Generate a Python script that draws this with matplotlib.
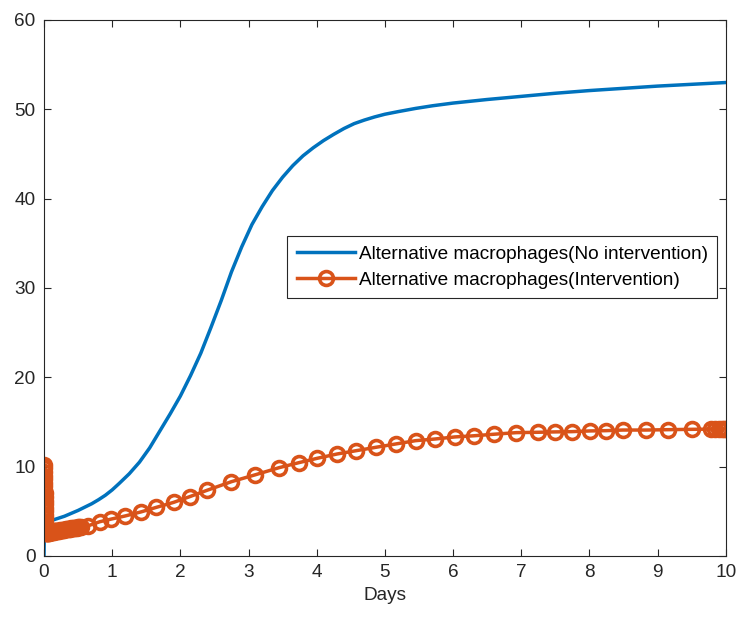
import matplotlib
matplotlib.use("Agg")
import matplotlib.pyplot as plt

plt.rcParams["font.family"] = ["Liberation Sans", "DejaVu Sans"]

# No intervention (blue curve)
t_none = [0, 0.004, 0.01, 0.02, 0.1, 0.3, 0.5, 0.7, 0.8, 0.9, 1.0, 1.1, 1.25,
          1.4, 1.55, 1.7, 1.85, 2.0, 2.15, 2.3, 2.45, 2.6, 2.75, 2.9, 3.05,
          3.2, 3.35, 3.5, 3.65, 3.8, 3.95, 4.1, 4.25, 4.4, 4.55, 4.7, 4.85,
          5.0, 5.2, 5.45, 5.7, 6.0, 6.5, 7.0, 7.5, 8.0, 8.5, 9.0, 9.5, 10.0]
v_none = [0, 2.0, 3.5, 3.8, 3.95, 4.45, 5.1, 5.85, 6.3, 6.8, 7.4, 8.1, 9.2,
          10.5, 12.1, 14.0, 15.9, 17.9, 20.2, 22.7, 25.6, 28.6, 31.8, 34.6,
          37.1, 39.1, 40.9, 42.4, 43.7, 44.8, 45.7, 46.5, 47.2, 47.85, 48.4,
          48.8, 49.15, 49.45, 49.75, 50.1, 50.4, 50.7, 51.1, 51.45, 51.8,
          52.1, 52.35, 52.6, 52.8, 53.0]

# Intervention (orange curve, solver steps)
t_int = [0, 0.001, 0.002, 0.003, 0.004, 0.005, 0.006, 0.007, 0.008, 0.009,
         0.010, 0.011, 0.012, 0.013, 0.014, 0.015, 0.016, 0.018, 0.020,
         0.022, 0.025, 0.028, 0.03, 0.04, 0.05, 0.06, 0.07, 0.08, 0.09, 0.10,
         0.11, 0.12, 0.13, 0.14, 0.15, 0.16, 0.17, 0.18, 0.20, 0.22, 0.24,
         0.26, 0.28, 0.30, 0.32, 0.34, 0.36, 0.38, 0.40, 0.42, 0.44, 0.46,
         0.48, 0.50, 0.52, 0.54, 0.65, 0.82, 0.99, 1.19, 1.43, 1.65, 1.90,
         2.14, 2.39, 2.75, 3.09, 3.45, 3.74, 4.01, 4.30, 4.58, 4.87, 5.16,
         5.45, 5.74, 6.03, 6.31, 6.60, 6.93, 7.25, 7.49, 7.74, 8.01, 8.24,
         8.49, 8.83, 9.15, 9.50, 9.79, 9.85, 9.90, 9.94, 9.97, 10.0]
v_int = [10.2, 9.8, 9.4, 9.0, 8.6, 8.2, 7.8, 7.4, 7.0, 6.6, 6.2, 5.8, 5.4,
         5.0, 4.6, 4.2, 3.85, 3.5, 3.2, 2.95, 2.75, 2.6, 2.55, 2.56, 2.58,
         2.6, 2.61, 2.63, 2.65, 2.66, 2.68, 2.7, 2.71, 2.73, 2.75, 2.76,
         2.78, 2.8, 2.83, 2.85, 2.88, 2.9, 2.93, 2.95, 2.98, 3.0, 3.03, 3.05,
         3.08, 3.1, 3.13, 3.15, 3.18, 3.2, 3.23, 3.25, 3.39, 3.84, 4.14,
         4.48, 4.95, 5.45, 6.0, 6.65, 7.35, 8.32, 9.07, 9.89, 10.45, 10.94,
         11.42, 11.79, 12.17, 12.54, 12.91, 13.1, 13.33, 13.46, 13.63, 13.81,
         13.85, 13.89, 13.92, 14.0, 14.03, 14.1, 14.1, 14.14, 14.18, 14.2,
         14.2, 14.2, 14.22, 14.22, 14.22]

x_ticks = list(range(0, 11))
y_ticks = [0, 10, 20, 30, 40, 50, 60]

fig = plt.figure(figsize=(7.42, 6.25), dpi=100)
ax = fig.add_axes([0.0593, 0.1104, 0.9187, 0.8576])

ax.plot(t_none, v_none, color="#0072BD", lw=2.5,
        label="Alternative macrophages(No intervention)")
ax.plot(t_int, v_int, color="#D95319", lw=2.5, marker="o", markersize=10,
        markerfacecolor="none", markeredgewidth=2.6,
        label="Alternative macrophages(Intervention)")

ax.set_xlim(0, 10)
ax.set_ylim(0, 60)
ax.set_xticks(x_ticks)
ax.set_yticks(y_ticks)
ax.tick_params(direction="in", length=5, width=0.8, top=True, right=True,
               labelsize=13.7, colors="#262626", pad=6)
for s in ax.spines.values():
    s.set_color("#262626")
    s.set_linewidth(0.8)
ax.set_xlabel("Days", fontsize=13.7, color="#262626", labelpad=4)

leg = ax.legend(loc="upper left", bbox_to_anchor=(0.357, 0.597),
                borderaxespad=0, fontsize=13.7, fancybox=False, framealpha=1,
                edgecolor="#262626", handlelength=3.05, handletextpad=0.2,
                borderpad=0.5, labelspacing=0.45, numpoints=1)
leg.get_frame().set_linewidth(0.8)

fig.savefig("out.png", dpi=100)
